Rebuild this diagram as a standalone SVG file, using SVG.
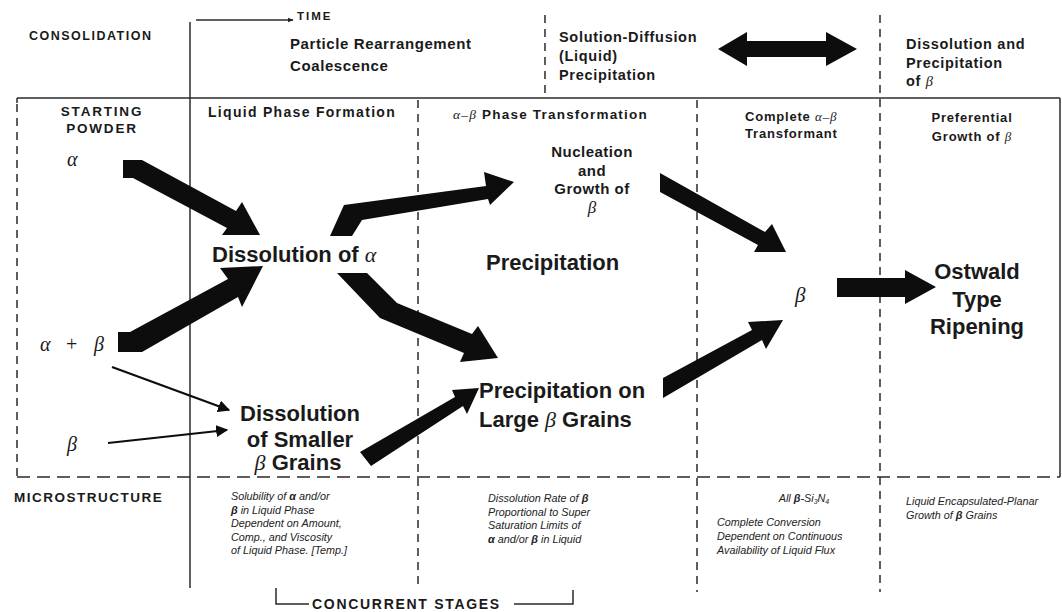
<svg xmlns="http://www.w3.org/2000/svg" width="1062" height="612" viewBox="0 0 1062 612">
<defs>
<style>
.t{font-family:"Liberation Sans",Arial,sans-serif;font-weight:bold;fill:#1a1a1a}
.g{font-family:"Liberation Serif","DejaVu Serif",serif;font-style:italic;font-weight:normal}
.s{font-family:"Liberation Sans",Arial,sans-serif;font-style:italic;font-size:10.8px;fill:#222}
.ln{stroke:#2a2a2a;stroke-width:1.5;fill:none}
.dv{stroke:#2a2a2a;stroke-width:1.5;fill:none;stroke-dasharray:8 6}
.dh{stroke:#2a2a2a;stroke-width:1.5;fill:none;stroke-dasharray:13 7}
.blk{fill:#0d0d0d}
.thin{stroke:#0d0d0d;stroke-width:2.2;fill:none;marker-end:url(#ah)}
</style>
<marker id="ah" viewBox="0 0 10 10" refX="9" refY="5" markerWidth="5.5" markerHeight="5.5" orient="auto" markerUnits="strokeWidth">
<path d="M0,0 L10,5 L0,10 Z" fill="#0d0d0d"/>
</marker>
<marker id="ta" viewBox="0 0 10 10" refX="9" refY="5" markerWidth="4" markerHeight="4" orient="auto" markerUnits="strokeWidth">
<path d="M0,1 L10,5 L0,9 Z" fill="#222"/>
</marker>
</defs>
<rect width="1062" height="612" fill="#fff"/>

<g id="frame">
<line class="ln" x1="17" y1="98" x2="1060" y2="98"/>
<line class="ln" x1="17" y1="98" x2="17" y2="103"/>
<line class="dv" x1="17" y1="104" x2="17" y2="477"/>
<line class="ln" x1="1060" y1="98" x2="1060" y2="477"/>
<line class="dh" x1="17" y1="477" x2="1060" y2="477"/>
<line class="ln" x1="190" y1="22" x2="190" y2="588"/>
<line class="dv" x1="545" y1="15" x2="545" y2="98"/>
<line class="dv" x1="418" y1="100" x2="418" y2="588"/>
<line class="dv" x1="697" y1="100" x2="697" y2="592"/>
<line class="dv" x1="880" y1="15" x2="880" y2="592"/>
<line class="ln" x1="196" y1="20" x2="293" y2="20" marker-end="url(#ta)"/>
<path class="ln" d="M276,588 V604 H309"/>
<path class="ln" d="M514,604 H573 V590"/>
</g>

<g id="header">
<text class="t" x="29" y="40" font-size="12.5" letter-spacing="1.5">CONSOLIDATION</text>
<text class="t" x="297" y="20" font-size="11.5" letter-spacing="2">TIME</text>
<text class="t" x="290" y="49" font-size="15" letter-spacing="0.6">Particle Rearrangement</text>
<text class="t" x="290" y="71" font-size="15" letter-spacing="0.6">Coalescence</text>
<text class="t" x="559" y="42" font-size="14.5" letter-spacing="0.7">Solution-Diffusion</text>
<text class="t" x="559" y="61" font-size="14.5" letter-spacing="0.7">(Liquid)</text>
<text class="t" x="559" y="80" font-size="14.5" letter-spacing="0.7">Precipitation</text>
<text class="t" x="906" y="49" font-size="14.5" letter-spacing="0.7">Dissolution and</text>
<text class="t" x="906" y="68" font-size="14.5" letter-spacing="0.7">Precipitation</text>
<text class="t" x="906" y="86" font-size="14.5" letter-spacing="0.7">of <tspan class="g">β</tspan></text>
<path class="blk" d="M718,49 L747,32 L747,41 L826,41 L826,32 L857,49 L826,66 L826,57 L747,57 L747,66 Z"/>
</g>

<g id="columns">
<text class="t" x="102" y="116" font-size="13.5" letter-spacing="1.8" text-anchor="middle">STARTING</text>
<text class="t" x="102" y="133" font-size="13.5" letter-spacing="1.8" text-anchor="middle">POWDER</text>
<text class="t" x="208" y="117" font-size="14" letter-spacing="1.3">Liquid Phase Formation</text>
<text class="t" x="453" y="119" font-size="13.5" letter-spacing="1.2"><tspan class="g">α–β</tspan> Phase Transformation</text>
<text class="t" x="745" y="121" font-size="13" letter-spacing="0.8">Complete <tspan class="g">α–β</tspan></text>
<text class="t" x="745" y="138" font-size="13" letter-spacing="0.8">Transformant</text>
<text class="t" x="972" y="122" font-size="13" letter-spacing="0.8" text-anchor="middle">Preferential</text>
<text class="t" x="972" y="141" font-size="13" letter-spacing="0.8" text-anchor="middle">Growth of <tspan class="g">β</tspan></text>
</g>

<g id="n-alpha"><text class="t g" x="67" y="166" font-size="20">α</text></g>
<g id="n-alphabeta"><text class="t g" x="40" y="351" font-size="20">α<tspan x="66" font-style="normal">+</tspan><tspan x="94">β</tspan></text></g>
<g id="n-beta"><text class="t g" x="67" y="451" font-size="20">β</text></g>
<g id="n-dissolution-alpha"><text class="t" x="212" y="262" font-size="22">Dissolution of <tspan class="g">α</tspan></text></g>
<g id="n-dissolution-smaller">
<text class="t" x="300" y="421" font-size="22" text-anchor="middle">Dissolution</text>
<text class="t" x="300" y="447" font-size="22" text-anchor="middle">of Smaller</text>
<text class="t" x="298" y="470" font-size="22" text-anchor="middle"><tspan class="g">β</tspan> Grains</text>
</g>
<g id="n-nucleation">
<text class="t" x="592" y="157" font-size="15" letter-spacing="0.5" text-anchor="middle">Nucleation</text>
<text class="t" x="592" y="176" font-size="15" letter-spacing="0.5" text-anchor="middle">and</text>
<text class="t" x="592" y="194" font-size="15" letter-spacing="0.5" text-anchor="middle">Growth of</text>
<text class="t g" x="592" y="213" font-size="17" text-anchor="middle">β</text>
</g>
<g id="n-precipitation"><text class="t" x="486" y="270" font-size="22">Precipitation</text></g>
<g id="n-precip-large">
<text class="t" x="479" y="398" font-size="22">Precipitation on</text>
<text class="t" x="479" y="427" font-size="22">Large <tspan class="g">β</tspan> Grains</text>
</g>
<g id="n-beta-final"><text class="t g" x="795" y="302" font-size="21">β</text></g>
<g id="n-ostwald">
<text class="t" x="977" y="279" font-size="22" text-anchor="middle">Ostwald</text>
<text class="t" x="977" y="307" font-size="22" text-anchor="middle">Type</text>
<text class="t" x="977" y="334" font-size="22" text-anchor="middle">Ripening</text>
</g>

<g id="microstructure">
<text class="t" x="14" y="502" font-size="13.5" letter-spacing="1.5">MICROSTRUCTURE</text>
<text class="s" x="231" y="500">Solubility of <tspan font-weight="bold">α</tspan> and/or</text>
<text class="s" x="231" y="514"><tspan font-weight="bold">β</tspan> in Liquid Phase</text>
<text class="s" x="231" y="527">Dependent on Amount,</text>
<text class="s" x="231" y="541">Comp., and Viscosity</text>
<text class="s" x="231" y="554">of Liquid Phase. [Temp.]</text>
<text class="s" x="488" y="502">Dissolution Rate of <tspan font-weight="bold">β</tspan></text>
<text class="s" x="488" y="516">Proportional to Super</text>
<text class="s" x="488" y="529">Saturation Limits of</text>
<text class="s" x="488" y="543"><tspan font-weight="bold">α</tspan> and/or <tspan font-weight="bold">β</tspan> in Liquid</text>
<text class="s" x="804" y="502" text-anchor="middle">All <tspan font-weight="bold">β</tspan>-Si<tspan font-size="7" dy="2">3</tspan><tspan dy="-2">N</tspan><tspan font-size="7" dy="2">4</tspan></text>
<text class="s" x="717" y="526">Complete Conversion</text>
<text class="s" x="717" y="540">Dependent on Continuous</text>
<text class="s" x="717" y="554">Availability of Liquid Flux</text>
<text class="s" x="906" y="505">Liquid Encapsulated-Planar</text>
<text class="s" x="906" y="519">Growth of <tspan font-weight="bold">β</tspan> Grains</text>
<text class="t" x="312" y="609" font-size="14" letter-spacing="1.7">CONCURRENT STAGES</text>
</g>

<g id="connectors">
<path class="blk" d="M123,160 L142,160 L236,211 L242,202 L260,235 L222,235 L227,228 L133,178 L123,178 Z"/>
<path class="blk" d="M118,332 L130,332 L228,279 L220,268 L263,266 L242,307 L238,297 L142,352 L118,352 Z"/>
<path class="blk" d="M330,236 L344,205 L486,186 L484,172 L514,182 L490,205 L488,199 L362,220 L352,236 Z"/>
<path class="blk" d="M337,273 L367,273 L397,303 L472,334 L478,326 L498,358 L460,362 L464,353 L380,318 Z"/>
<path class="blk" d="M360,452 L455,397 L452,390 L479,388 L467,414 L463,406 L371,466 Z"/>
<path class="blk" d="M660,173 L765,232 L772,224 L786,252 L754,252 L758,245 L660,192 Z"/>
<path class="blk" d="M663,378 L752,330 L748,322 L783,320 L766,349 L762,340 L663,398 Z"/>
<path class="blk" d="M837,278 L905,278 L905,270 L936,287 L905,304 L905,297 L837,297 Z"/>
<line class="thin" x1="112" y1="367" x2="229" y2="410"/>
<line class="thin" x1="108" y1="443" x2="227" y2="430"/>
</g>
</svg>
